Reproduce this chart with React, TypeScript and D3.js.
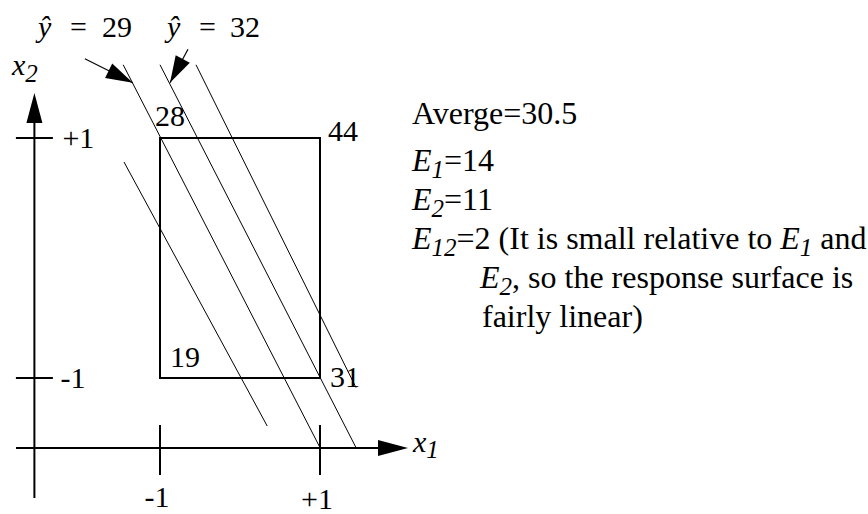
import React from 'react';
import * as d3 from 'd3';

// observed responses at the four corners of the 2^2 design (coded units)
const x1Levels = [-1, 1, -1, 1];
const x2Levels = [1, 1, -1, -1];
const responses = [28, 44, 19, 31];

// contour lines of the fitted surface, [x1, x2] in coded units
const contourStarts = [[-1.45, 0.8], [-1.46, 1.61], [-1.0, 1.61], [-0.55, 1.61]];
const contourEnds = [[0.34, -1.4], [1.0, -1.58], [1.45, -1.58], [1.45, -1.08]];

// the two labelled contours and the arrows pointing at them
const contourLabels = ['29', '32'];
const arrowTails = [[-1.94, 1.66], [-0.65, 1.74]];
const arrowTips = [[-1.34, 1.46], [-0.875, 1.46]];

const tickValues = [-1, 1];
const tickLabels = ['-1', '+1'];

const average = 30.5;
const effectNames = ['1', '2', '12'];
const effectValues = [14, 11, 2];

const FONT = '"Liberation Serif", "Times New Roman", serif';
const FS = 30;
const TS = 32;
const SUB = 25;

const x = d3.scaleLinear().domain([-1, 1]).range([160, 320]);
const y = d3.scaleLinear().domain([-1, 1]).range([378, 138]);

// where the axes sit, in coded units
const axisX1 = -2.57;
const axisX2 = -1.583;

function head(tail: number[], tip: number[], len = 28, half = 8) {
  const dx = tip[0] - tail[0];
  const dy = tip[1] - tail[1];
  const d = Math.hypot(dx, dy);
  const ux = dx / d, uy = dy / d;
  const bx = tip[0] - ux * len, by = tip[1] - uy * len;
  return `M${tip[0]},${tip[1]}L${bx - uy * half},${by + ux * half}L${bx + uy * half},${by - ux * half}Z`;
}

const cornerOffsets = [[-5, -12], [8, 3], [10, -11], [10, 9]];

export default function App() {
  const ox = x(axisX1);
  const oy = y(axisX2);
  const xEnd = x(2.1);
  const yTop = y(1.375);

  return (
    <svg width={868} height={514} style={{ position: 'absolute', left: 0, top: 0, background: '#fff' }}
      fontFamily={FONT} fontSize={FS} fill="#000">
      {/* axes */}
      <line x1={x(-2.8)} y1={oy} x2={xEnd - 20} y2={oy} stroke="#000" strokeWidth={2} />
      <path d={head([ox, oy], [xEnd, oy], 30, 8)} />
      <line x1={ox} y1={y(-2)} x2={ox} y2={yTop + 20} stroke="#000" strokeWidth={2} />
      <path d={head([ox, oy], [ox, yTop], 30, 8)} />
      {tickValues.map((v, i) => (
        <g key={'t' + i}>
          <line x1={x(v)} y1={oy - 23} x2={x(v)} y2={oy + 27} stroke="#000" strokeWidth={2} />
          <text x={x(v) - 3} y={oy + (i === 0 ? 59 : 61)} textAnchor="middle">{tickLabels[i]}</text>
          <line x1={ox - 18.5} y1={y(v)} x2={ox + 18.5} y2={y(v)} stroke="#000" strokeWidth={2} />
          <text x={ox + (i === 0 ? 26 : 28)} y={y(v) + 10}>{tickLabels[i]}</text>
        </g>
      ))}
      <text x={413} y={oy + 4} fontStyle="italic">x<tspan fontSize={SUB} dy={6}>1</tspan></text>
      <text x={12} y={75} fontStyle="italic">x<tspan fontSize={SUB} dy={7}>2</tspan></text>

      {/* design square */}
      <rect x={x(-1)} y={y(1)} width={x(1) - x(-1)} height={y(-1) - y(1)} fill="none" stroke="#000" strokeWidth={2} />
      {responses.map((r, i) => (
        <text key={'c' + i} x={x(x1Levels[i]) + cornerOffsets[i][0]} y={y(x2Levels[i]) + cornerOffsets[i][1]}>{r}</text>
      ))}

      {/* contours */}
      {contourStarts.map((s, i) => (
        <line key={'l' + i} x1={x(s[0])} y1={y(s[1])} x2={x(contourEnds[i][0])} y2={y(contourEnds[i][1])}
          stroke="#000" strokeWidth={1} />
      ))}
      {arrowTails.map((t, i) => {
        const tail = [x(t[0]), y(t[1])];
        const tip = [x(arrowTips[i][0]), y(arrowTips[i][1])];
        return (
          <g key={'a' + i}>
            <line x1={tail[0]} y1={tail[1]} x2={tip[0]} y2={tip[1]} stroke="#000" strokeWidth={1.2} />
            <path d={head(tail, tip, 27, 8)} />
          </g>
        );
      })}
      {contourLabels.map((lab, i) => {
        const left = i === 0 ? 38 : 167;
        return (
          <g key={'y' + i}>
            <text x={left} y={37} fontStyle="italic">{'\u0177'}</text>
            <text x={left + 32} y={37}>=</text>
            <text x={left + (i === 0 ? 64 : 63)} y={37}>{lab}</text>
          </g>
        );
      })}

      {/* summary */}
      <g fontSize={TS}>
        <text x={412} y={124}>Averge={average}</text>
        {effectNames.slice(0, 2).map((n, i) => (
          <text key={'e' + i} x={412} y={171 + i * 39}>
            <tspan fontStyle="italic">E</tspan>
            <tspan fontStyle="italic" fontSize={SUB} dy={7}>{n}</tspan>
            <tspan dy={-7}>={effectValues[i]}</tspan>
          </text>
        ))}
        <text x={412} y={249}>
          <tspan fontStyle="italic">E</tspan>
          <tspan fontStyle="italic" fontSize={SUB} dy={7}>{effectNames[2]}</tspan>
          <tspan dy={-7}>={effectValues[2]} (It is small relative to </tspan>
          <tspan fontStyle="italic">E</tspan>
          <tspan fontStyle="italic" fontSize={SUB} dy={7}>{effectNames[0]}</tspan>
          <tspan dy={-7}> and</tspan>
        </text>
        <text x={480} y={288}>
          <tspan fontStyle="italic">E</tspan>
          <tspan fontStyle="italic" fontSize={SUB} dy={7}>{effectNames[1]}</tspan>
          <tspan dy={-7}>, so the response surface is</tspan>
        </text>
        <text x={482} y={327}>fairly linear)</text>
      </g>
    </svg>
  );
}
